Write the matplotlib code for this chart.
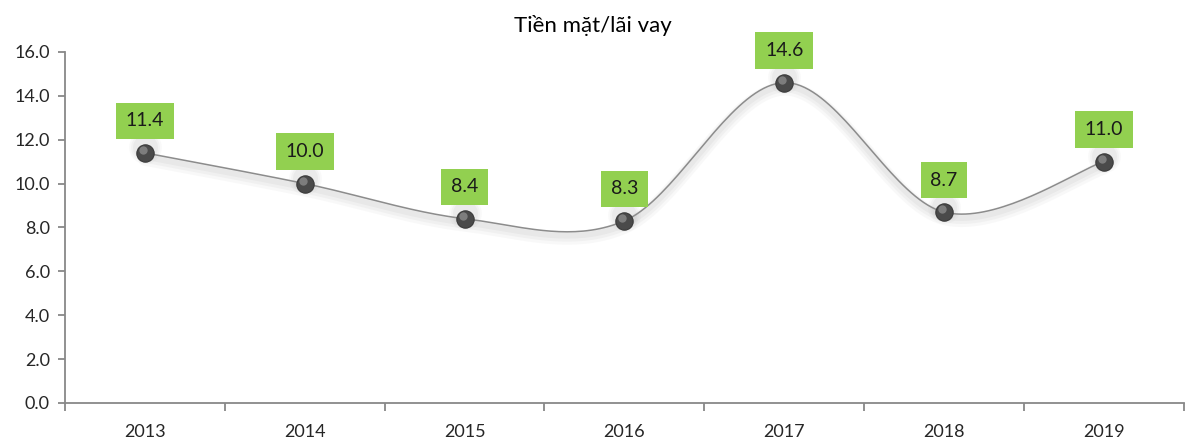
import numpy as np
import matplotlib.pyplot as plt
import matplotlib.transforms as mtransforms

plt.rcParams['font.family'] = ['Lato', 'DejaVu Sans']

years = ['2013', '2014', '2015', '2016', '2017', '2018', '2019']
values = [11.4, 10.0, 8.4, 8.3, 14.6, 8.7, 11.0]
title = 'Tiền mặt/lãi vay'


def smooth(x, y, n=40):
    # bezier pieces like the spreadsheet "smoothed line"
    x = np.asarray(x, float)
    y = np.asarray(y, float)
    px = np.concatenate([[x[0]], x, [x[-1]]])
    py = np.concatenate([[y[0]], y, [y[-1]]])
    xs, ys = [], []
    t = np.linspace(0, 1, n)
    for i in range(len(x) - 1):
        p0 = np.array([x[i], y[i]])
        p3 = np.array([x[i + 1], y[i + 1]])
        p1 = p0 + (np.array([px[i + 2], py[i + 2]]) - np.array([px[i], py[i]])) / 6
        p2 = p3 - (np.array([px[i + 3], py[i + 3]]) - np.array([px[i + 1], py[i + 1]])) / 6
        b = ((1 - t) ** 3)[:, None] * p0 + (3 * (1 - t) ** 2 * t)[:, None] * p1 \
            + (3 * (1 - t) * t ** 2)[:, None] * p2 + (t ** 3)[:, None] * p3
        xs.append(b[:, 0])
        ys.append(b[:, 1])
    return np.concatenate(xs), np.concatenate(ys)


fig = plt.figure(figsize=(11.85, 4.41), dpi=100)
ax = fig.add_axes([0.0549, 0.0862, 0.944, 0.796])

xpos = np.arange(len(years))
sx, sy = smooth(xpos, values)

# soft shadow under the line
for off, lw, a in [(6, 10, 0.05), (5, 7, 0.06), (4, 4, 0.07)]:
    tr = mtransforms.offset_copy(ax.transData, fig=fig, x=0, y=-off, units='dots')
    ax.plot(sx, sy, color='#808080', lw=lw, alpha=a, transform=tr,
            solid_capstyle='round', zorder=1)

ax.plot(sx, sy, color='#8c8c8c', lw=1.1, zorder=2)

# marker glow
for s, a in [(560, 0.05), (430, 0.07), (320, 0.09)]:
    ax.scatter(xpos, np.array(values) + 0.25, s=s, color='#9a9a9a', alpha=a,
               lw=0, zorder=3)
ax.plot(xpos, values, 'o', ms=12.5, color='#4a4a4a', mec='#3a3a3a', mew=0.8, zorder=4)
ax.plot(xpos, values, 'o', ms=6, color='#8a8a8a', mec='none', alpha=0.8, zorder=5,
        transform=mtransforms.offset_copy(ax.transData, fig=fig, x=-2, y=3, units='dots'))

for x, v in zip(xpos, values):
    ax.annotate(f'{v:.1f}', (x, v), xytext=(0, 23), textcoords='offset points',
                ha='center', va='center', fontsize=14, color='#1a1a1a', zorder=6,
                bbox=dict(boxstyle='square,pad=0.5', fc='#92d050', ec='none'))

ax.set_xlim(-0.5, len(years) - 0.5)
ax.set_ylim(0, 16)
ax.set_yticks(np.arange(0, 16.1, 2))
ax.set_yticklabels([f'{t:.1f}' for t in np.arange(0, 16.1, 2)])
ax.set_xticks(xpos)
ax.set_xticklabels(years)
ax.set_xticks(np.arange(-0.5, len(years), 1), minor=True)
ax.tick_params(axis='x', which='major', length=0, pad=15, labelsize=13, labelcolor='#262626')
ax.tick_params(axis='x', which='minor', length=6, width=1.3, color='#888888', direction='out')
ax.tick_params(axis='y', length=5, width=1.3, color='#888888', pad=6,
               labelsize=13, labelcolor='#262626')

for side in ['top', 'right']:
    ax.spines[side].set_visible(False)
for side in ['left', 'bottom']:
    ax.spines[side].set_color('#888888')
    ax.spines[side].set_linewidth(1.3)

fig.text(0.5, 0.943, title, ha='center', va='center', fontsize=16, color='#000000')

fig.savefig('out.png', dpi=100)
